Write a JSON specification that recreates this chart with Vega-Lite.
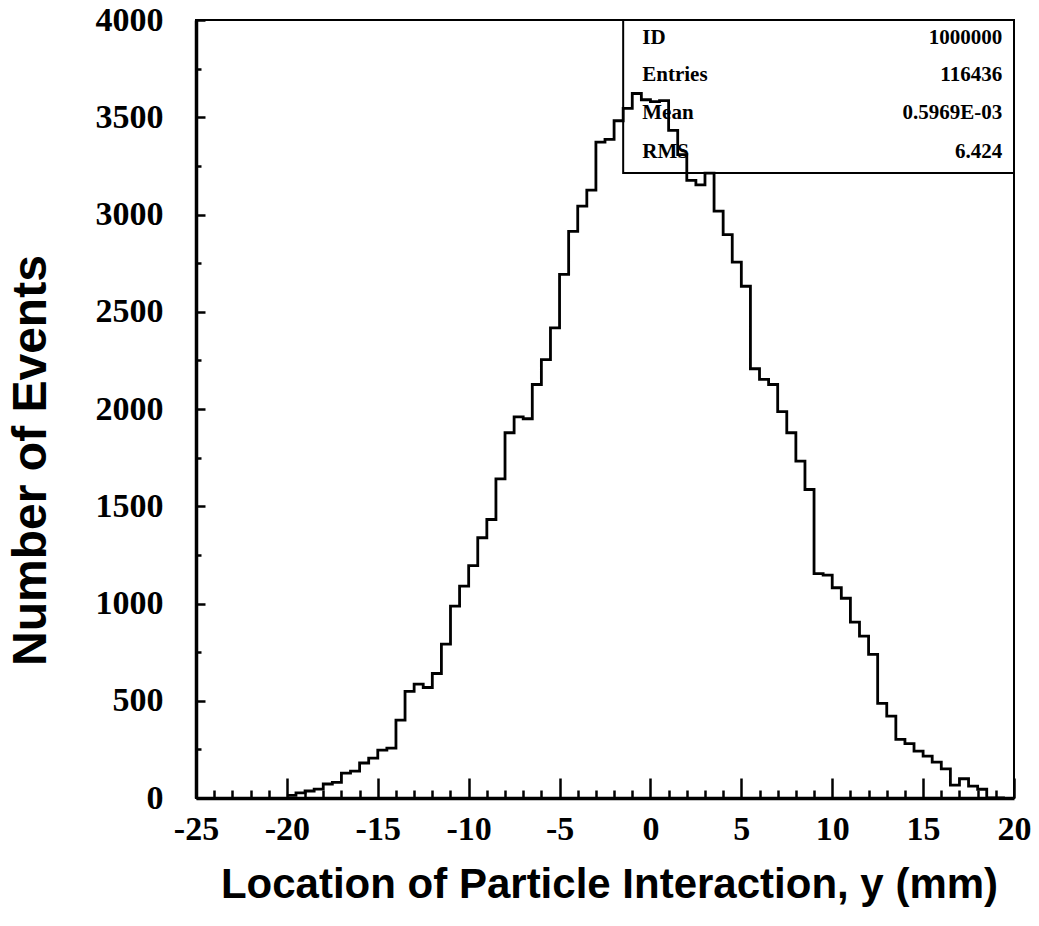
{
  "$schema": "https://vega.github.io/schema/vega-lite/v6.json",
  "width": 818,
  "height": 778,
  "autosize": {"type": "none"},
  "padding": {"left": 196, "top": 20, "right": 25, "bottom": 128},
  "background": "white",
  "config": {
    "view": {"stroke": "black", "strokeWidth": 2},
    "axis": {"grid": false, "domainColor": "black", "tickColor": "black", "labelColor": "black", "titleColor": "black"}
  },
  "datasets": {
    "hist": [
      {"y_mm": -20, "events": 14}, {"y_mm": -19.5, "events": 26}, {"y_mm": -19, "events": 36}, {"y_mm": -18.5, "events": 46},
      {"y_mm": -18, "events": 72}, {"y_mm": -17.5, "events": 80}, {"y_mm": -17, "events": 128}, {"y_mm": -16.5, "events": 138},
      {"y_mm": -16, "events": 180}, {"y_mm": -15.5, "events": 205}, {"y_mm": -15, "events": 246}, {"y_mm": -14.5, "events": 256},
      {"y_mm": -14, "events": 400}, {"y_mm": -13.5, "events": 548}, {"y_mm": -13, "events": 585}, {"y_mm": -12.5, "events": 568},
      {"y_mm": -12, "events": 640}, {"y_mm": -11.5, "events": 791}, {"y_mm": -11, "events": 986}, {"y_mm": -10.5, "events": 1089},
      {"y_mm": -10, "events": 1195}, {"y_mm": -9.5, "events": 1338}, {"y_mm": -9, "events": 1432}, {"y_mm": -8.5, "events": 1641},
      {"y_mm": -8, "events": 1878}, {"y_mm": -7.5, "events": 1960}, {"y_mm": -7, "events": 1950}, {"y_mm": -6.5, "events": 2126},
      {"y_mm": -6, "events": 2254}, {"y_mm": -5.5, "events": 2417}, {"y_mm": -5, "events": 2692}, {"y_mm": -4.5, "events": 2913},
      {"y_mm": -4, "events": 3043}, {"y_mm": -3.5, "events": 3125}, {"y_mm": -3, "events": 3372}, {"y_mm": -2.5, "events": 3386},
      {"y_mm": -2, "events": 3482}, {"y_mm": -1.5, "events": 3546}, {"y_mm": -1, "events": 3622}, {"y_mm": -0.5, "events": 3590},
      {"y_mm": 0, "events": 3580}, {"y_mm": 0.5, "events": 3585}, {"y_mm": 1, "events": 3433}, {"y_mm": 1.5, "events": 3308},
      {"y_mm": 2, "events": 3175}, {"y_mm": 2.5, "events": 3152}, {"y_mm": 3, "events": 3213}, {"y_mm": 3.5, "events": 3017},
      {"y_mm": 4, "events": 2897}, {"y_mm": 4.5, "events": 2755}, {"y_mm": 5, "events": 2631}, {"y_mm": 5.5, "events": 2207},
      {"y_mm": 6, "events": 2152}, {"y_mm": 6.5, "events": 2126}, {"y_mm": 7, "events": 1986}, {"y_mm": 7.5, "events": 1878},
      {"y_mm": 8, "events": 1732}, {"y_mm": 8.5, "events": 1586}, {"y_mm": 9, "events": 1154}, {"y_mm": 9.5, "events": 1146},
      {"y_mm": 10, "events": 1081}, {"y_mm": 10.5, "events": 1027}, {"y_mm": 11, "events": 904}, {"y_mm": 11.5, "events": 832},
      {"y_mm": 12, "events": 738}, {"y_mm": 12.5, "events": 486}, {"y_mm": 13, "events": 421}, {"y_mm": 13.5, "events": 301},
      {"y_mm": 14, "events": 280}, {"y_mm": 14.5, "events": 241}, {"y_mm": 15, "events": 215}, {"y_mm": 15.5, "events": 184},
      {"y_mm": 16, "events": 150}, {"y_mm": 16.5, "events": 66}, {"y_mm": 17, "events": 99}, {"y_mm": 17.5, "events": 61},
      {"y_mm": 18, "events": 45}, {"y_mm": 18.5, "events": 0}, {"y_mm": 19, "events": 0}, {"y_mm": 19.5, "events": 0}
    ]
  },
  "resolve": {"axis": {"x": "independent", "y": "independent"}},
  "layer": [
    {
      "data": {"name": "hist"},
      "mark": {"type": "line", "interpolate": "step-after", "color": "black", "strokeWidth": 2.8},
      "encoding": {
        "x": {
          "field": "y_mm", "type": "quantitative",
          "scale": {"domain": [-25, 20], "nice": false, "zero": false},
          "axis": {
            "orient": "bottom",
            "values": [-25, -20, -15, -10, -5, 0, 5, 10, 15, 20],
            "labelExpr": "'' + datum.value",
            "labelFlush": false, "labelOverlap": false,
            "labelFont": "Liberation Serif", "labelFontWeight": "bold", "labelFontSize": 34,
            "labelPadding": 34, "labelBaseline": "top",
            "tickSize": -20, "tickWidth": 2.5,
            "domainWidth": 3.5,
            "title": "Location of Particle Interaction, y (mm)",
            "titleFont": "Liberation Sans", "titleFontWeight": "bold", "titleFontSize": 42,
            "titleX": 413, "titleY": 99, "titleAlign": "center", "titleBaseline": "alphabetic", "titleAnchor": null
          }
        },
        "y": {
          "field": "events", "type": "quantitative",
          "scale": {"domain": [0, 4000], "nice": false, "zero": true},
          "axis": {
            "orient": "left",
            "values": [0, 500, 1000, 1500, 2000, 2500, 3000, 3500, 4000],
            "labelExpr": "'' + datum.value",
            "labelFlush": false, "labelOverlap": false,
            "labelFont": "Liberation Serif", "labelFontWeight": "bold", "labelFontSize": 34,
            "labelPadding": 42, "labelAlign": "right", "labelBaseline": "middle",
            "tickSize": -9, "tickWidth": 2.5,
            "domainWidth": 3.5,
            "title": "Number of Events",
            "titleFont": "Liberation Sans", "titleFontWeight": "bold", "titleFontSize": 48,
            "titleX": -165, "titleY": 440, "titleAngle": -90, "titleAlign": "center", "titleBaseline": "middle"
          }
        }
      }
    },
    {
      "data": {"values": [{"box": "stats"}]},
      "mark": {"type": "rect", "fill": null, "stroke": "black", "strokeWidth": 2},
      "encoding": {
        "x": {
          "datum": -1.5, "type": "quantitative",
          "axis": {
            "orient": "bottom", "values": [-24, -23, -22, -21, -19, -18, -17, -16, -14, -13, -12, -11, -9, -8, -7, -6, -4, -3, -2, -1, 1, 2, 3, 4, 6, 7, 8, 9, 11, 12, 13, 14, 16, 17, 18, 19],
            "labels": false, "domain": false, "tickSize": -8, "tickWidth": 2.5, "title": null
          }
        },
        "x2": {"datum": 20},
        "y": {
          "datum": 3213, "type": "quantitative",
          "axis": {
            "orient": "left", "values": [250, 750, 1250, 1750, 2250, 2750, 3250, 3750],
            "labels": false, "domain": false, "tickSize": -5, "tickWidth": 2.5, "title": null
          }
        },
        "y2": {"datum": 4000}
      }
    },
    {
      "data": {"values": [{"name": "ID", "value": "1000000"}]},
      "layer": [
        {"mark": {"type": "text", "align": "left", "baseline": "middle", "font": "Liberation Serif", "fontWeight": "bold", "fontSize": 21, "color": "black"},
         "encoding": {"x": {"datum": -0.45, "type": "quantitative", "axis": null}, "y": {"datum": 3905, "type": "quantitative", "axis": null}, "text": {"field": "name"}}},
        {"mark": {"type": "text", "align": "right", "baseline": "middle", "font": "Liberation Serif", "fontWeight": "bold", "fontSize": 21, "color": "black"},
         "encoding": {"x": {"datum": 19.35, "type": "quantitative", "axis": null}, "y": {"datum": 3905, "type": "quantitative", "axis": null}, "text": {"field": "value"}}}
      ]
    },
    {
      "data": {"values": [{"name": "Entries", "value": "116436"}]},
      "layer": [
        {"mark": {"type": "text", "align": "left", "baseline": "middle", "font": "Liberation Serif", "fontWeight": "bold", "fontSize": 21, "color": "black"},
         "encoding": {"x": {"datum": -0.45, "type": "quantitative", "axis": null}, "y": {"datum": 3715, "type": "quantitative", "axis": null}, "text": {"field": "name"}}},
        {"mark": {"type": "text", "align": "right", "baseline": "middle", "font": "Liberation Serif", "fontWeight": "bold", "fontSize": 21, "color": "black"},
         "encoding": {"x": {"datum": 19.35, "type": "quantitative", "axis": null}, "y": {"datum": 3715, "type": "quantitative", "axis": null}, "text": {"field": "value"}}}
      ]
    },
    {
      "data": {"values": [{"name": "Mean", "value": "0.5969E-03"}]},
      "layer": [
        {"mark": {"type": "text", "align": "left", "baseline": "middle", "font": "Liberation Serif", "fontWeight": "bold", "fontSize": 21, "color": "black"},
         "encoding": {"x": {"datum": -0.45, "type": "quantitative", "axis": null}, "y": {"datum": 3522, "type": "quantitative", "axis": null}, "text": {"field": "name"}}},
        {"mark": {"type": "text", "align": "right", "baseline": "middle", "font": "Liberation Serif", "fontWeight": "bold", "fontSize": 21, "color": "black"},
         "encoding": {"x": {"datum": 19.35, "type": "quantitative", "axis": null}, "y": {"datum": 3522, "type": "quantitative", "axis": null}, "text": {"field": "value"}}}
      ]
    },
    {
      "data": {"values": [{"name": "RMS", "value": "6.424"}]},
      "layer": [
        {"mark": {"type": "text", "align": "left", "baseline": "middle", "font": "Liberation Serif", "fontWeight": "bold", "fontSize": 21, "color": "black"},
         "encoding": {"x": {"datum": -0.45, "type": "quantitative", "axis": null}, "y": {"datum": 3322, "type": "quantitative", "axis": null}, "text": {"field": "name"}}},
        {"mark": {"type": "text", "align": "right", "baseline": "middle", "font": "Liberation Serif", "fontWeight": "bold", "fontSize": 21, "color": "black"},
         "encoding": {"x": {"datum": 19.35, "type": "quantitative", "axis": null}, "y": {"datum": 3322, "type": "quantitative", "axis": null}, "text": {"field": "value"}}}
      ]
    }
  ]
}
